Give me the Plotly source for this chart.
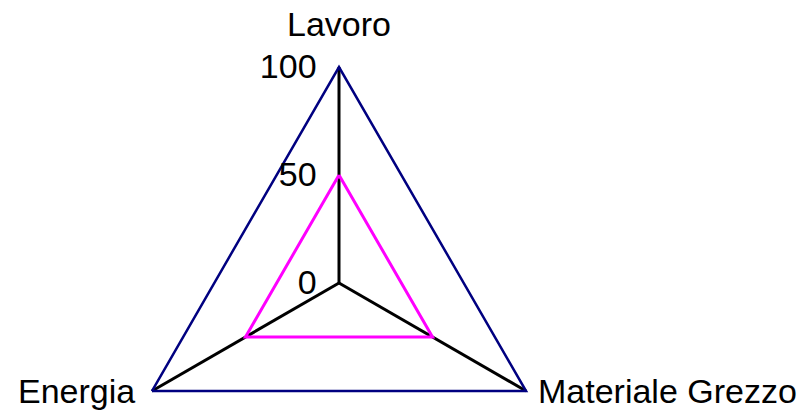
import plotly.graph_objects as go

categories = ["Lavoro", "Materiale Grezzo", "Energia"]
series_values = [50, 50, 50]
radial_ticks = [0, 50, 100]

def closed(v):
    return list(v) + [v[0]]

fig = go.Figure()
fig.add_trace(go.Scatterpolar(
    r=closed(series_values), theta=closed(categories), mode="lines",
    line=dict(color="#FF00FF", width=3), showlegend=False))

W, H = 802, 520          # figure taller than the window; only the top 411 px are visible
cx, cy, R = 339, 283, 216
x0, x1 = (cx - R) / W, (cx + R) / W
y0, y1 = 1 - (cy + R) / H, 1 - (cy - R) / H

FONT = "Liberation Sans, Arial, sans-serif"
FS = 34

# category labels placed around the vertices
label_pos = {
    "Lavoro": dict(x=cx / W, y=1 - 45 / H, xanchor="center", yanchor="bottom"),
    "Materiale Grezzo": dict(x=536 / W, y=1 - 391 / H, xanchor="left", yanchor="middle"),
    "Energia": dict(x=137 / W, y=1 - 391 / H, xanchor="right", yanchor="middle"),
}
annotations = [
    dict(text=c, xref="paper", yref="paper", showarrow=False,
         font=dict(family=FONT, size=FS, color="black"), **label_pos[c])
    for c in categories
]

fig.update_layout(
    width=W, height=H,
    margin=dict(l=0, r=0, t=0, b=0),
    paper_bgcolor="white",
    font=dict(family=FONT, size=FS, color="black"),
    annotations=annotations,
    polar=dict(
        domain=dict(x=[x0, x1], y=[y0, y1]),
        gridshape="linear",
        bgcolor="white",
        radialaxis=dict(
            range=[0, 100], tickvals=radial_ticks, ticktext=[str(t) for t in radial_ticks],
            angle=90, side="counterclockwise", showline=False, showgrid=False,
            ticks="outside", ticklen=10, tickcolor="rgba(0,0,0,0)", tickangle=90,
            tickfont=dict(family=FONT, size=FS, color="black"),
        ),
        angularaxis=dict(
            type="category", categoryarray=categories, rotation=90, direction="clockwise",
            showline=True, linecolor="#000080", linewidth=2.5,
            showgrid=True, gridcolor="black", gridwidth=2.5,
            ticks="", showticklabels=False,
        ),
    ),
)

fig.write_html(
    "out.html",
    config={"displayModeBar": False},
    post_script=(
        "document.documentElement.style.overflow='hidden';"
        "document.body.style.overflow='hidden';"
        "document.body.style.margin='0';"
        "document.body.style.padding='0';"
    ),
)
